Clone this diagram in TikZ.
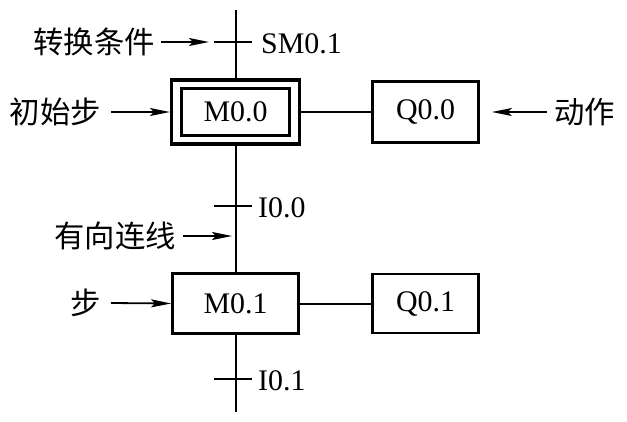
\documentclass[tikz,border=0pt]{standalone}
\usepackage{fontspec}
\setmainfont{Liberation Serif}
\newfontfamily\cjk{Noto Sans CJK SC}
\usetikzlibrary{arrows.meta}
\begin{document}
\begin{tikzpicture}[x=1bp,y=-1bp,
  lat/.style={font=\fontsize{30}{32}\selectfont, inner sep=0pt},
  zh/.style={font=\cjk\fontsize{30.5}{32}\selectfont, inner sep=0pt},
  boxthick/.style={draw, line width=2.8bp, inner sep=0pt, font=\fontsize{30}{32}\selectfont},
  wire/.style={line width=2bp},
  pointer/.style={line width=1.8bp, -{Stealth[length=20bp,width=8bp,inset=4bp]}},
]
\useasboundingbox (0,0) rectangle (627,421);
% step boxes
\node[boxthick, minimum width=108bp, minimum height=47bp] (m00) at (235.5,112) {M0.0};
\node[draw, line width=3.2bp, minimum width=128bp, minimum height=64bp] (m00o) at (235.5,112) {};
\node[boxthick, minimum width=126bp, minimum height=60bp] (m01) at (235.5,303.5) {M0.1};
\node[boxthick, minimum width=106bp, minimum height=61bp] (q00) at (425.5,112) {Q0.0};
\node[boxthick, minimum width=106bp, minimum height=59bp] (q01) at (425.5,303.5) {Q0.1};
% vertical line
\coordinate (top) at (235.5,10);
\coordinate (bot) at (235.5,412);
\draw[wire] (top) -- (m00o.north);
\draw[wire] (m00o.south) -- (m01.north);
\draw[wire] (m01.south) -- (bot);
% action links
\draw[wire] (m00o.east) -- (q00.west);
\draw[wire] (m01.east) -- (q01.west);
% transitions
\coordinate (t1l) at (214,42); \coordinate (t1r) at (252,42);
\coordinate (t2l) at (214,206); \coordinate (t2r) at (252,206);
\coordinate (t3l) at (214,379); \coordinate (t3r) at (252,379);
\draw[wire] (t1l) -- (t1r);
\draw[wire] (t2l) -- (t2r);
\draw[wire] (t3l) -- (t3r);
\node[lat, anchor=west] (sm01) at (261,44) {SM0.1};
\node[lat, anchor=west] (i00) at (258,208) {I0.0};
\node[lat, anchor=west] (i01) at (258,381) {I0.1};
% annotations
\node[zh, anchor=east] (zhcond) at (155,42) {转换条件};
\coordinate (acond) at (209,42);
\draw[pointer] (zhcond.east) ++(6,0) -- (acond);
\node[zh, anchor=east] (zhinit) at (101,112) {初始步};
\draw[pointer] (zhinit.east) ++(10,0) -- (m00o.west);
\node[zh, anchor=west] (zhact) at (554,112) {动作};
\draw[pointer] (zhact.west) ++(-7,0) -- ([xshift=12bp]q00.east);
\node[zh, anchor=east] (zhline) at (176,236) {有向连线};
\coordinate (aline) at (232,236);
\draw[pointer] (zhline.east) ++(7,0) -- (aline);
\node[zh, anchor=east] (zhstep) at (101,303) {步};
\draw[pointer] (zhstep.east) ++(10,0) -- (m01.west);
\end{tikzpicture}
\end{document}
